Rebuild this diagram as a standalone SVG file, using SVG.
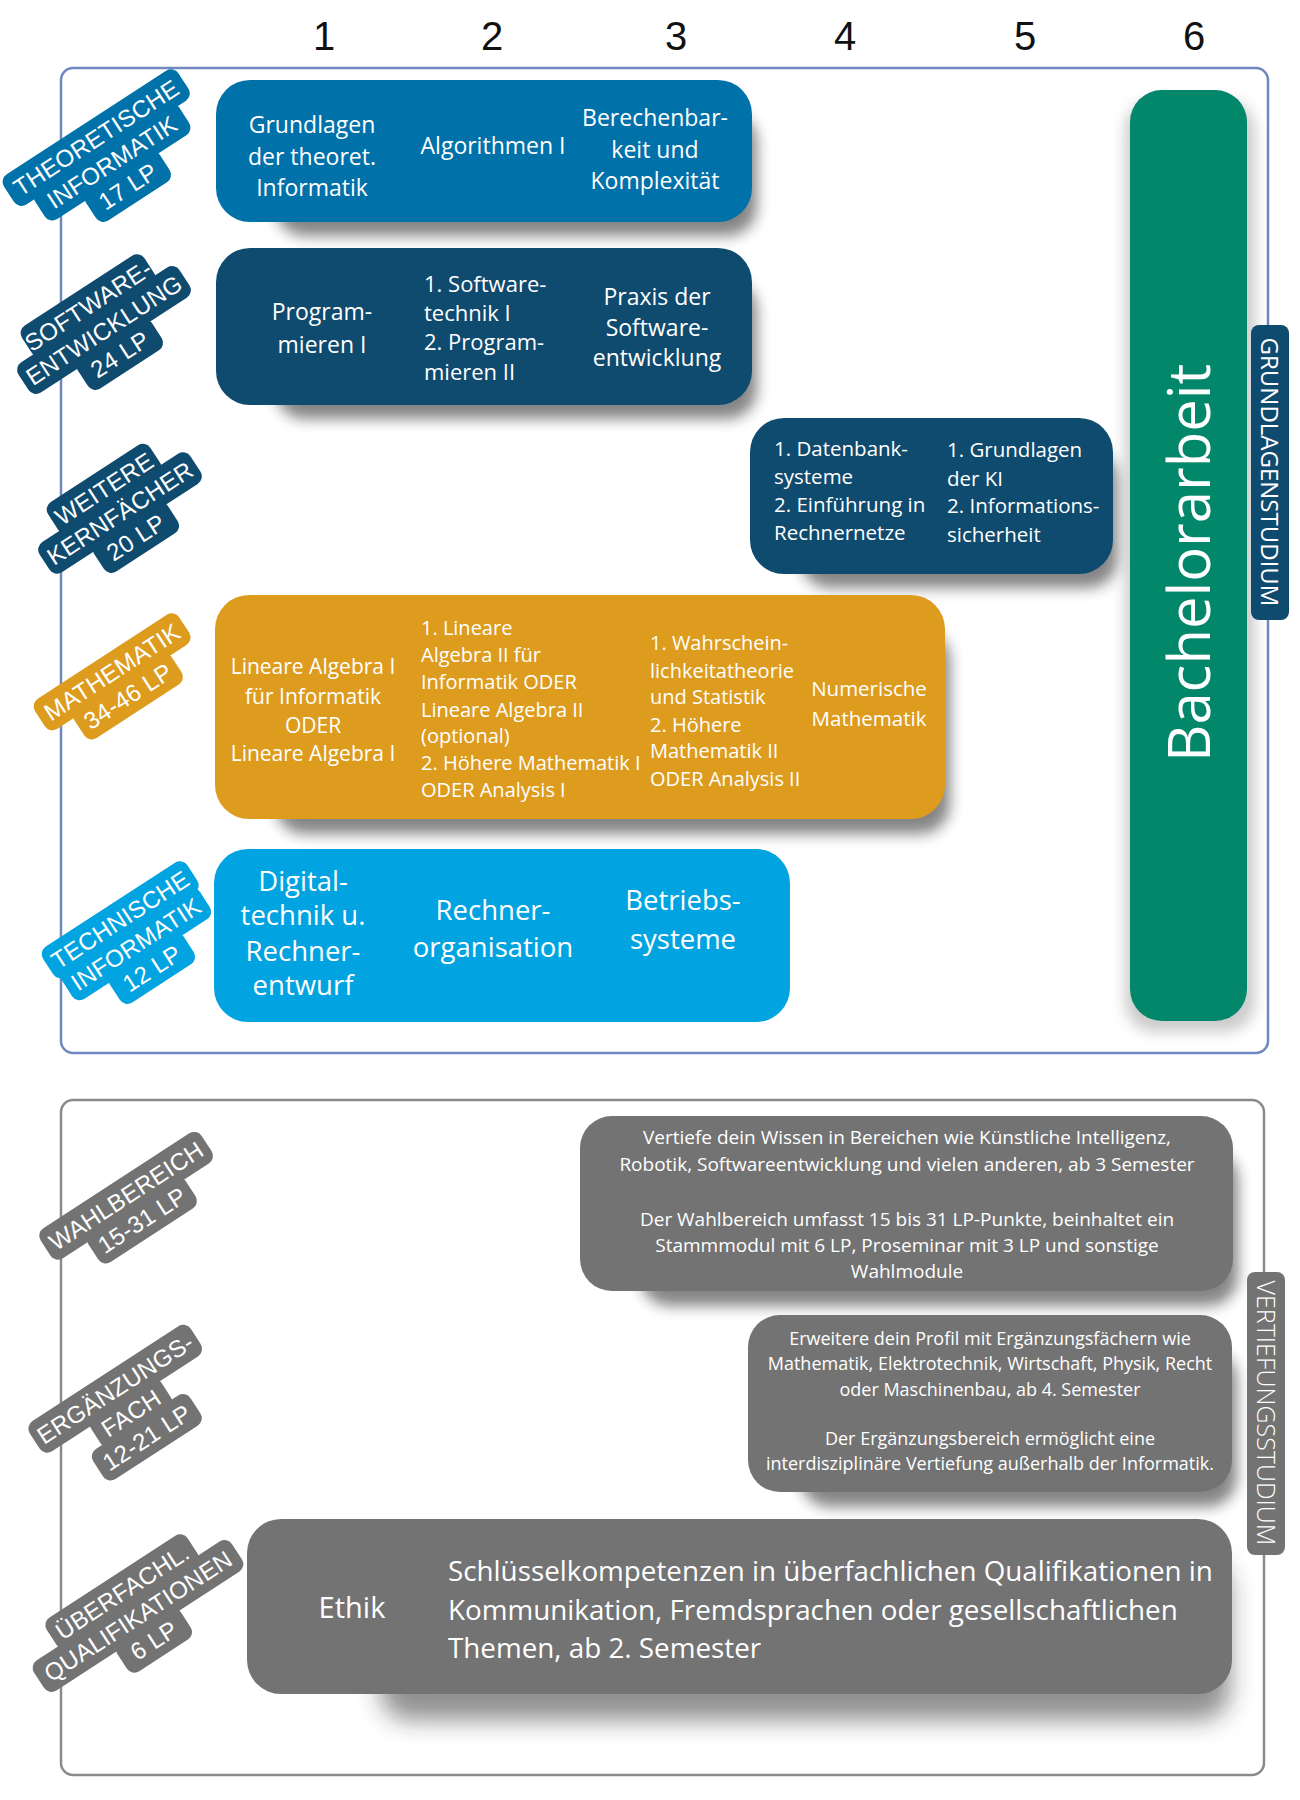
<svg xmlns="http://www.w3.org/2000/svg" width="1300" height="1800" viewBox="0 0 1300 1800">
<defs>
<filter id="blur" x="-20%" y="-40%" width="140%" height="200%"><feGaussianBlur stdDeviation="7"/></filter>
<filter id="blur2" x="-20%" y="-40%" width="140%" height="200%"><feGaussianBlur stdDeviation="12"/></filter>
</defs>
<style>
.hd{font-family:"Liberation Sans","DejaVu Sans",sans-serif;font-size:40px;fill:#111;text-anchor:middle}
.t{font-family:"Open Sans","Noto Sans","Liberation Sans",sans-serif;fill:#fff}
.c{text-anchor:middle}
.bd{font-family:"Liberation Sans","DejaVu Sans",sans-serif;font-size:24px;fill:#fff;text-anchor:middle;letter-spacing:0.3px}
.sh{fill:#222;opacity:.55;filter:url(#blur)}
.dk{fill:#0F4A6F}
.gr{fill:#737373}
</style>

<g id="headers">
<text class="hd" x="324" y="50">1</text>
<text class="hd" x="492" y="50">2</text>
<text class="hd" x="676" y="50">3</text>
<text class="hd" x="845" y="50">4</text>
<text class="hd" x="1025" y="50">5</text>
<text class="hd" x="1194" y="50">6</text>
</g>

<g id="frames">
<rect x="61" y="68" width="1207" height="985" rx="12" fill="none" stroke="#7088C0" stroke-width="2.5"/>
<rect x="61" y="1100" width="1203" height="675" rx="12" fill="none" stroke="#8A8A8A" stroke-width="2.5"/>
</g>

<g id="shadows">
<rect class="sh" x="275" y="112" width="482" height="124" rx="30"/>
<rect class="sh" x="275" y="280" width="482" height="139" rx="30"/>
<rect class="sh" x="800" y="450" width="318" height="138" rx="30"/>
<rect class="sh" x="275" y="630" width="675" height="204" rx="30"/>
<rect x="1125" y="100" width="130" height="932" rx="30" fill="#999" opacity=".5" filter="url(#blur)"/>
<rect class="sh" x="640" y="1150" width="598" height="156" rx="30"/>
<rect class="sh" x="800" y="1350" width="437" height="157" rx="30"/>
<rect x="380" y="1560" width="850" height="160" rx="30" fill="#222" opacity=".5" filter="url(#blur2)"/>
</g>

<g id="theoretische">
<rect x="216" y="80" width="536" height="142" rx="34" fill="#0171AA"/>
<text class="t c" font-size="23"><tspan x="312" y="133">Grundlagen</tspan><tspan x="312" y="165">der theoret.</tspan><tspan x="312" y="196">Informatik</tspan></text>
<text class="t c" font-size="23" x="493" y="154">Algorithmen I</text>
<text class="t c" font-size="23"><tspan x="655" y="126">Berechenbar-</tspan><tspan x="655" y="158">keit und</tspan><tspan x="655" y="189">Komplexität</tspan></text>
</g>

<g id="software">
<rect class="dk" x="216" y="248" width="536" height="157" rx="34"/>
<text class="t c" font-size="23"><tspan x="322" y="320">Program-</tspan><tspan x="322" y="353">mieren I</tspan></text>
<text class="t" font-size="22"><tspan x="424" y="292">1. Software-</tspan><tspan x="424" y="321">technik I</tspan><tspan x="424" y="350">2. Program-</tspan><tspan x="424" y="380">mieren II</tspan></text>
<text class="t c" font-size="23"><tspan x="657" y="305">Praxis der</tspan><tspan x="657" y="336">Software-</tspan><tspan x="657" y="366">entwicklung</tspan></text>
</g>

<g id="weitere">
<rect class="dk" x="750" y="418" width="363" height="156" rx="34"/>
<text class="t" font-size="20.5"><tspan x="774" y="456">1. Datenbank-</tspan><tspan x="774" y="484">systeme</tspan><tspan x="774" y="512">2. Einführung in</tspan><tspan x="774" y="540">Rechnernetze</tspan></text>
<text class="t" font-size="20.5"><tspan x="947" y="457">1. Grundlagen</tspan><tspan x="947" y="486">der KI</tspan><tspan x="947" y="513">2. Informations-</tspan><tspan x="947" y="542">sicherheit</tspan></text>
</g>

<g id="mathematik">
<rect x="215" y="595" width="730" height="224" rx="34" fill="#DD9C1E"/>
<text class="t c" font-size="21"><tspan x="313" y="674">Lineare Algebra I</tspan><tspan x="313" y="704">für Informatik</tspan><tspan x="313" y="733">ODER</tspan><tspan x="313" y="761">Lineare Algebra I</tspan></text>
<text class="t" font-size="20"><tspan x="421" y="635">1. Lineare</tspan><tspan x="421" y="662">Algebra II für</tspan><tspan x="421" y="689">Informatik ODER</tspan><tspan x="421" y="717">Lineare Algebra II</tspan><tspan x="421" y="743">(optional)</tspan><tspan x="421" y="770">2. Höhere Mathematik I</tspan><tspan x="421" y="797">ODER Analysis I</tspan></text>
<text class="t" font-size="20"><tspan x="650" y="650">1. Wahrschein-</tspan><tspan x="650" y="678">lichkeitatheorie</tspan><tspan x="650" y="704">und Statistik</tspan><tspan x="650" y="732">2. Höhere</tspan><tspan x="650" y="758">Mathematik II</tspan><tspan x="650" y="786">ODER Analysis II</tspan></text>
<text class="t c" font-size="20.5"><tspan x="869" y="696">Numerische</tspan><tspan x="869" y="726">Mathematik</tspan></text>
</g>

<g id="technische">
<rect x="214" y="849" width="576" height="173" rx="34" fill="#02A3E1"/>
<text class="t c" font-size="27.5"><tspan x="303" y="891">Digital-</tspan><tspan x="303" y="925">technik u.</tspan><tspan x="303" y="961">Rechner-</tspan><tspan x="303" y="995">entwurf</tspan></text>
<text class="t c" font-size="27.5"><tspan x="493" y="920">Rechner-</tspan><tspan x="493" y="957">organisation</tspan></text>
<text class="t c" font-size="27.5"><tspan x="683" y="910">Betriebs-</tspan><tspan x="683" y="949">systeme</tspan></text>
</g>

<g id="bachelorarbeit">
<rect x="1130" y="90" width="117" height="931" rx="32" fill="#02876A"/>
<text class="t c" font-size="58" transform="translate(1210,563) rotate(-90)">Bachelorarbeit</text>
</g>

<g id="grundlagenstudium">
<rect class="dk" x="1251" y="325" width="38" height="295" rx="8"/>
<text class="t c" font-size="24" transform="translate(1261,472) rotate(90)">GRUNDLAGENSTUDIUM</text>
</g>

<g id="wahlbereich">
<rect class="gr" x="580" y="1116" width="653" height="175" rx="32"/>
<text class="t c" font-size="19"><tspan x="907" y="1144">Vertiefe dein Wissen in Bereichen wie Künstliche Intelligenz,</tspan><tspan x="907" y="1171">Robotik, Softwareentwicklung und vielen anderen, ab 3 Semester</tspan><tspan x="907" y="1226">Der Wahlbereich umfasst 15 bis 31 LP-Punkte, beinhaltet ein</tspan><tspan x="907" y="1252">Stammmodul mit 6 LP, Proseminar mit 3 LP und sonstige</tspan><tspan x="907" y="1278">Wahlmodule</tspan></text>
</g>

<g id="ergaenzungsfach">
<rect class="gr" x="748" y="1315" width="484" height="177" rx="32"/>
<text class="t c" font-size="18"><tspan x="990" y="1345">Erweitere dein Profil mit Ergänzungsfächern wie</tspan><tspan x="990" y="1370">Mathematik, Elektrotechnik, Wirtschaft, Physik, Recht</tspan><tspan x="990" y="1396">oder Maschinenbau, ab 4. Semester</tspan><tspan x="990" y="1445">Der Ergänzungsbereich ermöglicht eine</tspan><tspan x="990" y="1470">interdisziplinäre Vertiefung außerhalb der Informatik.</tspan></text>
</g>

<g id="ueberfachlich">
<rect class="gr" x="247" y="1519" width="985" height="175" rx="34"/>
<text class="t c" font-size="29" x="352" y="1618">Ethik</text>
<text class="t" font-size="27.8"><tspan x="448" y="1581">Schlüsselkompetenzen in überfachlichen Qualifikationen in</tspan><tspan x="448" y="1620">Kommunikation, Fremdsprachen oder gesellschaftlichen</tspan><tspan x="448" y="1658">Themen, ab 2. Semester</tspan></text>
</g>

<g id="vertiefungsstudium">
<rect class="gr" x="1247" y="1272" width="38" height="283" rx="8"/>
<text class="t c" font-size="25" font-weight="300" transform="translate(1257,1413) rotate(90)">VERTIEFUNGSSTUDIUM</text>
</g>

<g id="badge-theoretische" transform="translate(112,162) rotate(-33)">
<g fill="#0171AA"><rect x="-104" y="-47" width="208" height="36" rx="9"/><rect x="-86" y="-18" width="172" height="36" rx="9"/><rect x="-44" y="11" width="88" height="36" rx="9"/></g>
<text class="bd"><tspan x="0" y="-20.5">THEORETISCHE</tspan><tspan x="0" y="8.5">INFORMATIK</tspan><tspan x="0" y="37.5">17 LP</tspan></text>
</g>

<g id="badge-software" transform="translate(104,330) rotate(-33)">
<g class="dk"><rect x="-73" y="-47" width="146" height="36" rx="9"/><rect x="-96" y="-18" width="192" height="36" rx="9"/><rect x="-44" y="11" width="88" height="36" rx="9"/></g>
<text class="bd"><tspan x="0" y="-20.5">SOFTWARE-</tspan><tspan x="0" y="8.5">ENTWICKLUNG</tspan><tspan x="0" y="37.5">24 LP</tspan></text>
</g>

<g id="badge-weitere" transform="translate(120,513) rotate(-33)">
<g class="dk"><rect x="-61" y="-47" width="122" height="36" rx="9"/><rect x="-90" y="-18" width="180" height="36" rx="9"/><rect x="-44" y="11" width="88" height="36" rx="9"/></g>
<text class="bd"><tspan x="0" y="-20.5">WEITERE</tspan><tspan x="0" y="8.5">KERNFÄCHER</tspan><tspan x="0" y="37.5">20 LP</tspan></text>
</g>

<g id="badge-mathematik" transform="translate(120,684) rotate(-33)">
<g fill="#DD9C1E"><rect x="-86" y="-32.5" width="172" height="36" rx="9"/><rect x="-58" y="-3.5" width="116" height="36" rx="9"/></g>
<text class="bd"><tspan x="0" y="-6">MATHEMATIK</tspan><tspan x="0" y="23">34-46 LP</tspan></text>
</g>

<g id="badge-technische" transform="translate(136,944) rotate(-33)">
<g fill="#02A3E1"><rect x="-86" y="-47" width="172" height="36" rx="9"/><rect x="-82" y="-18" width="164" height="36" rx="9"/><rect x="-44" y="11" width="88" height="36" rx="9"/></g>
<text class="bd"><tspan x="0" y="-20.5">TECHNISCHE</tspan><tspan x="0" y="8.5">INFORMATIK</tspan><tspan x="0" y="37.5">12 LP</tspan></text>
</g>

<g id="badge-wahlbereich" transform="translate(134,1208) rotate(-33)">
<g class="gr"><rect x="-96" y="-32.5" width="192" height="36" rx="9"/><rect x="-58" y="-3.5" width="116" height="36" rx="9"/></g>
<text class="bd"><tspan x="0" y="-6">WAHLBEREICH</tspan><tspan x="0" y="23">15-31 LP</tspan></text>
</g>

<g id="badge-ergaenzung" transform="translate(131,1413) rotate(-33)">
<g class="gr"><rect x="-96" y="-47" width="192" height="36" rx="9"/><rect x="-42" y="-18" width="84" height="36" rx="9"/><rect x="-58" y="11" width="116" height="36" rx="9"/></g>
<text class="bd"><tspan x="0" y="-20.5">ERGÄNZUNGS-</tspan><tspan x="0" y="8.5">FACH</tspan><tspan x="0" y="37.5">12-21 LP</tspan></text>
</g>

<g id="badge-ueberfachl" transform="translate(138,1616) rotate(-33)">
<g class="gr"><rect x="-84" y="-47" width="168" height="36" rx="9"/><rect x="-118" y="-18" width="236" height="36" rx="9"/><rect x="-38" y="11" width="76" height="36" rx="9"/></g>
<text class="bd"><tspan x="0" y="-20.5">ÜBERFACHL.</tspan><tspan x="0" y="8.5">QUALIFIKATIONEN</tspan><tspan x="0" y="37.5">6 LP</tspan></text>
</g>
</svg>
